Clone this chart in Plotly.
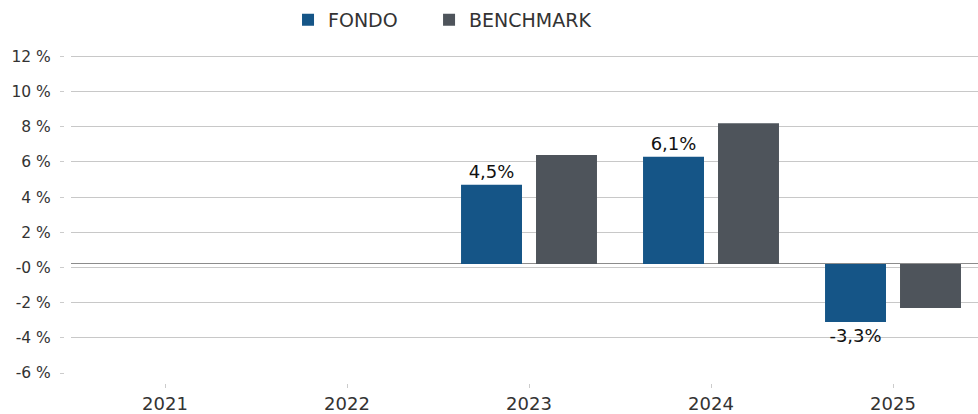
import plotly.graph_objects as go

# Annual returns (%), fund vs. benchmark
years = ["2021", "2022", "2023", "2024", "2025"]
fondo = [None, None, 4.5, 6.1, -3.3]
benchmark = [None, None, 6.2, 8.0, -2.5]

# Y-axis tick positions (labels rounded to whole percent)
y_ticks = [-6.2, -4.2, -2.2, -0.2, 1.8, 3.8, 5.8, 7.8, 9.8, 11.8]
y_tick_text = ["{:.0f} %".format(v) for v in y_ticks]

x_pos = list(range(len(years)))
fondo_text = ["" if v is None else ("%.1f%%" % v).replace(".", ",") for v in fondo]

FONT = "DejaVu Sans"
BLUE = "#155587"
GREY = "#4e545b"

fig = go.Figure()
fig.add_trace(go.Bar(
    name="FONDO", x=x_pos, y=fondo, marker=dict(color=BLUE, line=dict(width=0)),
    text=fondo_text, textposition="outside", cliponaxis=False,
    textfont=dict(family=FONT, size=18, color="#111111"),
    hoverinfo="skip", legend="legend",
))
fig.add_trace(go.Bar(
    name="BENCHMARK", x=x_pos, y=benchmark, marker=dict(color=GREY, line=dict(width=0)),
    hoverinfo="skip", legend="legend2",
))

legend_style = dict(
    orientation="h", y=0.952, yanchor="middle", xanchor="left",
    font=dict(family=FONT, size=19, color="#333333"),
    bgcolor="rgba(0,0,0,0)",
)

fig.update_layout(
    width=978, height=414,
    margin=dict(l=0, r=0, t=0, b=0, autoexpand=False),
    paper_bgcolor="white", plot_bgcolor="white",
    barmode="group", bargap=0.176, bargroupgap=0.187,
    font=dict(family=FONT, color="#333333"),
    showlegend=True,
    legend=dict(x=0.2945, **legend_style),
    legend2=dict(x=0.4387, **legend_style),
    xaxis=dict(
        domain=[0.0726, 1.0],
        range=[-0.5165, 4.467],
        tickmode="array", tickvals=x_pos, ticktext=years,
        showgrid=False, zeroline=False, showline=False,
        anchor="free", position=0.0749, automargin=False,
        ticks="outside", ticklen=4, tickcolor="#cccccc", tickwidth=1,
        ticklabelstandoff=0,
        tickfont=dict(family=FONT, size=18, color="#333333"),
    ),
    yaxis=dict(
        domain=[0.099, 0.891],
        range=[-6.2, 12.44],
        tickmode="array", tickvals=y_ticks, ticktext=y_tick_text,
        showgrid=True, gridcolor="#c8c8c8", gridwidth=1,
        zeroline=True, zerolinecolor="#8c8c8c", zerolinewidth=1,
        showline=False,
        anchor="free", position=0.0654, automargin=False,
        ticks="outside", ticklen=4, tickcolor="#cccccc", tickwidth=1,
        ticklabelstandoff=6,
        tickfont=dict(family=FONT, size=15.5, color="#333333"),
    ),
)

fig.write_html("out.html")
